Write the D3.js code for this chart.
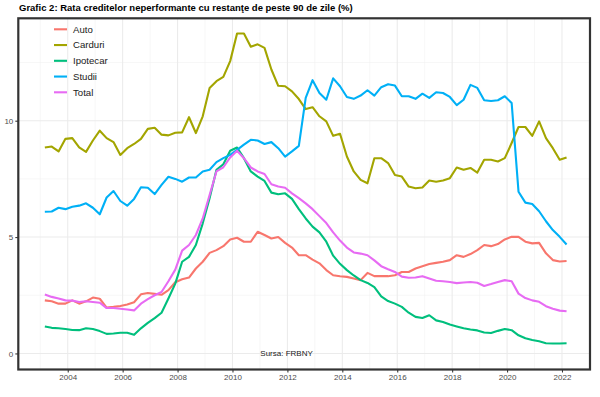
<!DOCTYPE html>
<html lang="ro">
<head>
<meta charset="UTF-8">
<title>Grafic 2</title>
<script src="https://d3js.org/d3.v7.min.js"></script>
<style>
  body { margin: 0; background: #fff; font-family: "Liberation Sans", Arial, sans-serif; }
  svg text { font-family: "Liberation Sans", Arial, sans-serif; }
</style>
</head>
<body>
<div id="chart"></div>
<script>
// quarterly series, 2003 Q1 - 2022 Q1
const firstYear = 2003;
const seriesNames = ["Auto", "Carduri", "Ipotecar", "Studii", "Total"];
const seriesColors = ["#F8766D", "#A3A500", "#00BF7D", "#00B0F6", "#E76BF3"];

const auto = [2.28,2.24,2.14,2.14,2.28,2.14,2.24,2.40,2.35,1.97,
  2.00,2.04,2.10,2.20,2.54,2.60,2.56,2.52,2.72,3.06,
  3.19,3.26,3.65,3.94,4.32,4.44,4.61,4.90,4.97,4.80,
  4.80,5.23,5.09,4.94,5.00,4.75,4.55,4.22,4.22,4.03,
  3.87,3.58,3.36,3.32,3.29,3.22,3.15,3.46,3.32,3.32,
  3.32,3.36,3.50,3.50,3.65,3.75,3.84,3.89,3.94,4.01,
  4.22,4.15,4.27,4.44,4.66,4.61,4.70,4.90,5.01,5.01,
  4.80,4.73,4.75,4.30,4.01,3.95,3.97];

const carduri = [8.85,8.89,8.68,9.22,9.25,8.85,8.66,9.15,9.57,9.25,
  9.08,8.53,8.82,9.00,9.22,9.65,9.70,9.40,9.37,9.48,
  9.50,10.15,9.47,10.19,11.41,11.70,11.88,12.56,13.75,13.75,
  13.18,13.28,13.13,12.20,11.50,11.48,11.26,10.93,10.50,10.58,
  10.19,9.97,9.35,9.44,8.46,7.82,7.46,7.31,8.39,8.39,
  8.18,7.67,7.60,7.17,7.10,7.13,7.43,7.38,7.43,7.53,
  7.99,7.89,7.97,7.77,8.32,8.32,8.25,8.39,9.04,9.73,
  9.73,9.35,9.97,9.25,8.82,8.32,8.42];

const ipotecar = [1.16,1.10,1.08,1.05,1.01,1.00,1.08,1.05,0.96,0.84,
  0.86,0.89,0.89,0.80,1.08,1.31,1.52,1.75,2.36,3.00,
  3.94,4.15,4.66,5.59,6.67,7.89,8.13,8.71,8.85,8.39,
  7.82,7.60,7.41,6.91,6.84,6.88,6.64,6.20,5.80,5.45,
  5.20,4.80,4.20,3.85,3.58,3.35,3.15,3.03,2.85,2.45,
  2.25,2.14,2.00,1.75,1.57,1.52,1.64,1.42,1.35,1.24,
  1.16,1.08,1.03,0.99,0.90,0.88,0.97,1.05,1.00,0.78,
  0.65,0.58,0.52,0.44,0.43,0.43,0.44];

const studii = [6.09,6.10,6.26,6.20,6.30,6.35,6.45,6.26,5.98,6.70,
  6.98,6.55,6.35,6.64,7.14,7.12,6.85,7.24,7.59,7.50,
  7.38,7.56,7.56,7.82,7.89,8.22,8.39,8.53,8.75,8.97,
  9.18,9.15,9.00,9.08,8.82,8.46,8.68,8.92,10.98,11.74,
  11.19,10.90,11.82,11.48,11.02,10.94,11.08,11.31,11.08,11.44,
  11.57,11.51,11.05,11.05,10.94,11.16,10.98,11.22,11.19,11.02,
  10.67,10.90,11.54,11.41,10.88,10.85,10.88,11.05,10.76,6.95,
  6.48,6.42,6.11,5.68,5.30,5.01,4.68];

const total = [2.53,2.43,2.36,2.28,2.27,2.21,2.24,2.21,2.18,1.95,
  1.95,1.92,1.89,1.85,2.14,2.33,2.50,2.64,3.10,3.60,
  4.42,4.66,5.09,5.80,6.81,7.82,8.00,8.42,8.71,8.39,
  7.99,7.82,7.71,7.27,7.17,7.12,6.88,6.67,6.45,6.20,
  5.90,5.60,5.20,4.85,4.55,4.34,4.29,4.22,4.00,3.75,
  3.62,3.50,3.30,3.25,3.26,3.32,3.22,3.12,3.10,3.07,
  3.02,3.05,3.07,3.04,2.90,2.98,3.07,3.15,3.10,2.57,
  2.38,2.28,2.22,2.03,1.92,1.84,1.81];

const xTicks = [2004, 2006, 2008, 2010, 2012, 2014, 2016, 2018, 2020, 2022];
const yTicks = [0, 5, 10];

const allSeries = [auto, carduri, ipotecar, studii, total];

// quarter -> decimal year (dates fall on the 3rd month of each quarter)
function quarterTime(i) {
  const year = firstYear + Math.floor(i / 4);
  const q = i % 4;
  return year + q * 0.25 + 2 / 12;
}

const W = 600, H = 397;
const panel = { left: 18.3, right: 590, top: 18.3, bottom: 369.5 };

const svg = d3.select("#chart").append("svg")
  .attr("width", W).attr("height", H);

const x = d3.scaleLinear().domain([2002.2, 2023.02]).range([panel.left, panel.right]);
const y = d3.scaleLinear().domain([-0.69, 14.40]).range([panel.bottom, panel.top]);

// title
svg.append("text")
  .attr("x", 19).attr("y", 10.5)
  .attr("font-size", "9.5px").attr("font-weight", "bold").attr("fill", "#000")
  .text("Grafic 2: Rata creditelor neperformante cu restanţe de peste 90 de zile (%)");

// panel background
svg.append("rect")
  .attr("x", panel.left).attr("y", panel.top)
  .attr("width", panel.right - panel.left).attr("height", panel.bottom - panel.top)
  .attr("fill", "#fff");

const grid = svg.append("g");
const minorX = d3.range(2003, 2023, 2);
const minorY = [2.5, 7.5, 12.5];

grid.selectAll(".mx").data(minorX).enter().append("line")
  .attr("x1", d => x(d)).attr("x2", d => x(d))
  .attr("y1", panel.top).attr("y2", panel.bottom)
  .attr("stroke", "#F0F0F0").attr("stroke-width", 0.55);
grid.selectAll(".my").data(minorY).enter().append("line")
  .attr("x1", panel.left).attr("x2", panel.right)
  .attr("y1", d => y(d)).attr("y2", d => y(d))
  .attr("stroke", "#F0F0F0").attr("stroke-width", 0.55);
grid.selectAll(".gx").data(xTicks).enter().append("line")
  .attr("x1", d => x(d)).attr("x2", d => x(d))
  .attr("y1", panel.top).attr("y2", panel.bottom)
  .attr("stroke", "#EBEBEB").attr("stroke-width", 1.07);
grid.selectAll(".gy").data(yTicks).enter().append("line")
  .attr("x1", panel.left).attr("x2", panel.right)
  .attr("y1", d => y(d)).attr("y2", d => y(d))
  .attr("stroke", "#EBEBEB").attr("stroke-width", 1.07);

// source note
svg.append("text")
  .attr("x", x(2011.97)).attr("y", y(0) + 3)
  .attr("text-anchor", "middle").attr("font-size", "8px").attr("fill", "#1a1a1a")
  .text("Sursa: FRBNY");

// lines
const line = d3.line()
  .x((d, i) => x(quarterTime(i)))
  .y(d => y(d));

svg.append("g").selectAll("path")
  .data(allSeries).enter().append("path")
  .attr("d", d => line(d))
  .attr("fill", "none")
  .attr("stroke", (d, i) => seriesColors[i])
  .attr("stroke-width", 2.1)
  .attr("stroke-linejoin", "round");

// axes
const xAxis = svg.append("g")
  .attr("transform", `translate(0,${panel.bottom})`)
  .call(d3.axisBottom(x).tickValues(xTicks).tickFormat(d3.format("d")).tickSize(3).tickPadding(2));
const yAxis = svg.append("g")
  .attr("transform", `translate(${panel.left},0)`)
  .call(d3.axisLeft(y).tickValues(yTicks).tickSize(3).tickPadding(2));

[xAxis, yAxis].forEach(a => {
  a.select(".domain").remove();
  a.selectAll(".tick line").attr("stroke", "#333").attr("stroke-width", 1.07);
  a.selectAll(".tick text").attr("font-size", "8px").attr("fill", "#4D4D4D")
    .attr("font-family", "'Liberation Sans', Arial, sans-serif");
});

// panel border
svg.append("rect")
  .attr("x", panel.left).attr("y", panel.top)
  .attr("width", panel.right - panel.left).attr("height", panel.bottom - panel.top)
  .attr("fill", "none").attr("stroke", "#333").attr("stroke-width", 2.2);

// legend
const legend = svg.append("g");
const legRows = legend.selectAll("g").data(seriesNames).enter().append("g")
  .attr("transform", (d, i) => `translate(54,${29.3 + i * 15.75})`);
legRows.append("line")
  .attr("x1", 0).attr("x2", 13).attr("y1", 0).attr("y2", 0)
  .attr("stroke", (d, i) => seriesColors[i]).attr("stroke-width", 2.1);
legRows.append("text")
  .attr("x", 19).attr("y", 0).attr("dy", "0.35em")
  .attr("font-size", "9.6px").attr("fill", "#1a1a1a")
  .text(d => d);
</script>
</body>
</html>
